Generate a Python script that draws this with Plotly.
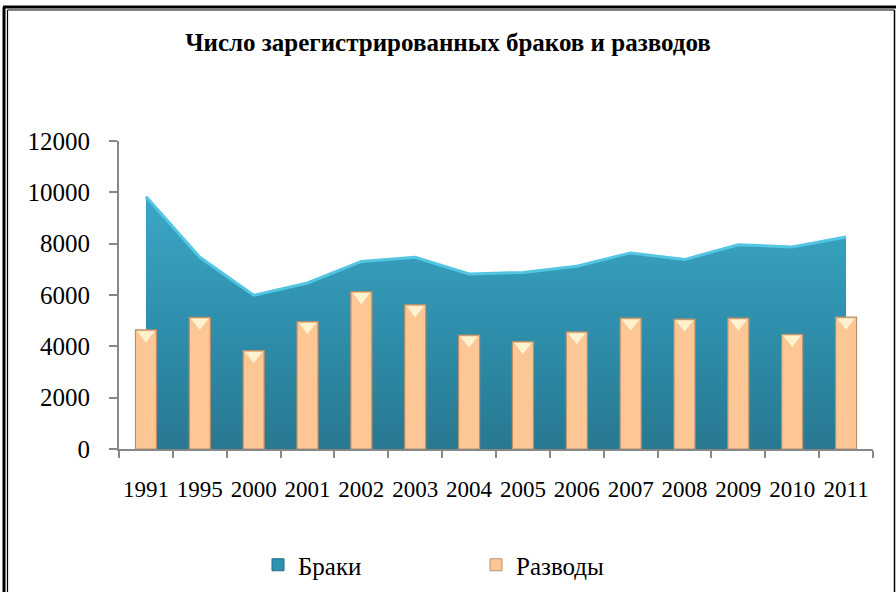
import plotly.graph_objects as go

years = ["1991", "1995", "2000", "2001", "2002", "2003", "2004",
         "2005", "2006", "2007", "2008", "2009", "2010", "2011"]
marriages = [9840, 7470, 5990, 6470, 7310, 7470, 6820,
             6880, 7120, 7640, 7380, 7960, 7870, 8260]
divorces = [4640, 5130, 3830, 4960, 6130, 5620, 4440,
            4180, 4560, 5100, 5060, 5100, 4470, 5140]
y_ticks = [0, 2000, 4000, 6000, 8000, 10000, 12000]

W, H = 896, 592
L, R, T, B = 119, 23, 141, 143
PW, PH = W - L - R, H - T - B
SERIF = "Liberation Serif"


def px(x):
    return (x - L) / PW


def py(y):
    return (H - B - y) / PH


fig = go.Figure()

# Area (marriages) on base axes
fig.add_trace(go.Scatter(
    x=years, y=marriages, mode="lines", fill="tozeroy",
    line=dict(color="#52C6E2", width=3),
    fillgradient=dict(type="vertical", start=0, stop=10000,
                      colorscale=[[0, "#287890"], [0.5, "#2F90AD"], [1, "#3BA8C6"]]),
    showlegend=False, hoverinfo="skip", name="Браки",
))

# Bars (divorces) on overlay axis so they sit above the area
fig.add_trace(go.Bar(
    x=years, y=divorces, yaxis="y2", name="Разводы",
    marker=dict(color="#FDC795", line=dict(color="#B8906C", width=1.2)),
    width=0.39, showlegend=False,
))
# bevel highlight on bar tops
fig.add_trace(go.Scatter(
    x=years, y=[v - 200 for v in divorces], yaxis="y2", mode="markers",
    marker=dict(symbol="triangle-down", size=15, color="#FFF2CF",
                line=dict(width=0)),
    showlegend=False, hoverinfo="skip",
))

# legend entries
fig.add_trace(go.Bar(x=[None], y=[None], yaxis="y2", name="Браки",
                     marker=dict(color="#2E93B0", line=dict(color="#1E6D84", width=1))))
fig.add_trace(go.Bar(x=[None], y=[None], yaxis="y2", name="Разводы",
                     marker=dict(color="#FDC795", line=dict(color="#B8906C", width=1))))

axis_grey = "#878787"
fig.update_layout(
    width=W, height=H,
    margin=dict(l=L, r=R, t=T, b=B, pad=0, autoexpand=False),
    paper_bgcolor="white", plot_bgcolor="white",
    barmode="overlay",
    font=dict(family=SERIF, color="black"),
    title=dict(text="<b>Число зарегистрированных браков и разводов</b>",
               x=0.5, xref="container", xanchor="center",
               y=1 - 42 / H, yref="container", yanchor="middle",
               font=dict(family=SERIF, size=25, color="black"),
               automargin=False),
    xaxis=dict(type="category", categoryorder="array", categoryarray=years,
               range=[-0.5, len(years) - 0.5], automargin=False,
               showline=True, linecolor=axis_grey, linewidth=2,
               ticks="outside", tickson="boundaries", ticklen=7,
               tickcolor=axis_grey, tickwidth=2, tickangle=0,
               showgrid=False, zeroline=False,
               tickfont=dict(family=SERIF, size=23, color="black"),
               ticklabelstandoff=18),
    yaxis=dict(range=[0, 12000], tickvals=y_ticks,
               ticktext=[str(v) for v in y_ticks], automargin=False,
               showline=True, linecolor=axis_grey, linewidth=2,
               ticks="outside", ticklen=8, tickcolor=axis_grey, tickwidth=2,
               showgrid=False, zeroline=False,
               tickfont=dict(family=SERIF, size=25, color="black"),
               ticklabelstandoff=14),
    yaxis2=dict(range=[0, 12000], overlaying="y", visible=False,
                showgrid=False, zeroline=False, automargin=False),
    legend=dict(orientation="h", x=px(258), xanchor="left",
                y=py(565), yanchor="middle", entrywidth=173,
                font=dict(family=SERIF, size=25, color="black"),
                bgcolor="rgba(0,0,0,0)"),
    shapes=[
        # thick outer frame
        dict(type="line", xref="paper", yref="paper",
             x0=px(4), x1=px(4), y0=py(7), y1=py(600),
             line=dict(color="black", width=3)),
        dict(type="line", xref="paper", yref="paper",
             x0=px(3), x1=px(900), y0=py(7), y1=py(7),
             line=dict(color="black", width=3)),
        # thin inner frame
        dict(type="line", xref="paper", yref="paper",
             x0=px(7.5), x1=px(7.5), y0=py(10), y1=py(600),
             line=dict(color="black", width=1.2)),
        dict(type="line", xref="paper", yref="paper",
             x0=px(7.5), x1=px(894.5), y0=py(10), y1=py(10),
             line=dict(color="black", width=1.2)),
        dict(type="line", xref="paper", yref="paper",
             x0=px(894.5), x1=px(894.5), y0=py(10), y1=py(600),
             line=dict(color="black", width=1.5)),
    ],
)

fig.write_html("out.html",
               config={"displayModeBar": False},
               post_script="document.body.style.margin='0';"
                           "document.body.style.overflow='hidden';")
